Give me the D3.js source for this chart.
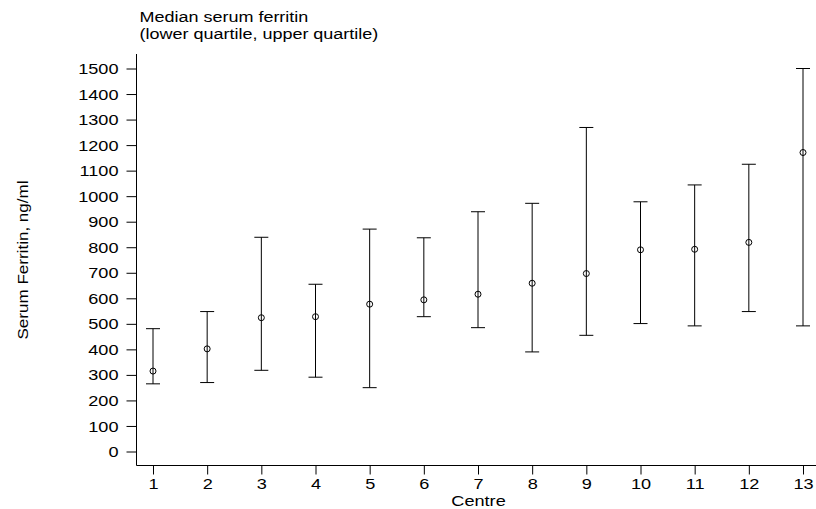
<!DOCTYPE html>
<html>
<head>
<meta charset="utf-8">
<script src="https://cdn.jsdelivr.net/npm/d3@7"></script>
<style>
  html, body { margin: 0; padding: 0; background: #fff; }
  svg { display: block; }
  text { font-family: "Liberation Sans", Arial, sans-serif; fill: #000; }
</style>
</head>
<body>
<svg id="chart" width="816" height="509"></svg>
<script>
const centres = [1, 2, 3, 4, 5, 6, 7, 8, 9, 10, 11, 12, 13];
const medians = [315, 402, 524, 528, 577, 594, 616, 659, 697, 790, 792, 819, 1171];
const lowerQ  = [265, 270, 318, 291, 250, 528, 485, 390, 455, 501, 492, 548, 492];
const upperQ  = [481, 548, 839, 655, 871, 837, 939, 972, 1269, 978, 1044, 1125, 1500];
const yTicks = [0, 100, 200, 300, 400, 500, 600, 700, 800, 900, 1000, 1100, 1200, 1300, 1400, 1500];
const titleLines = ["Median serum ferritin", "(lower quartile, upper quartile)"];
const xLabel = "Centre";
const yLabel = "Serum Ferritin, ng/ml";

const svg = d3.select("#chart");
const FS = 15.5, SX = 1.17;

const x = d3.scaleLinear().domain([1, 13]).range([153, 803]);
const y = d3.scaleLinear().domain([0, 1500]).range([451.5, 68.5]);

const axisX = 136.5, axisY = 465.5;

// Y axis
const gy = svg.append("g").attr("transform", `translate(${axisX},0)`)
  .call(d3.axisLeft(y).tickValues(yTicks).tickSize(10).tickSizeOuter(0).tickFormat(d3.format("d")));
gy.select(".domain").remove();
gy.selectAll(".tick line").attr("stroke", "#000");
gy.selectAll(".tick text")
  .attr("x", null).attr("dy", null)
  .attr("font-size", FS)
  .attr("text-anchor", "end")
  .attr("dominant-baseline", "central")
  .attr("transform", `translate(-18,0) scale(${SX},1)`)
  .style("font-family", "'Liberation Sans', Arial, sans-serif");

// X axis
const gx = svg.append("g").attr("transform", `translate(0,${axisY})`)
  .call(d3.axisBottom(x).tickValues(centres).tickSize(9).tickSizeOuter(0).tickFormat(d3.format("d")));
gx.select(".domain").remove();
gx.selectAll(".tick line").attr("stroke", "#000");
gx.selectAll(".tick text")
  .attr("y", null).attr("dy", null)
  .attr("font-size", FS)
  .attr("text-anchor", "middle")
  .attr("transform", `translate(0,23) scale(${SX},1)`)
  .style("font-family", "'Liberation Sans', Arial, sans-serif");

// Axis lines
svg.append("line").attr("x1", axisX).attr("x2", axisX).attr("y1", 54).attr("y2", axisY)
  .attr("stroke", "#000").attr("stroke-width", 1);
svg.append("line").attr("x1", axisX).attr("x2", 816).attr("y1", axisY).attr("y2", axisY)
  .attr("stroke", "#000").attr("stroke-width", 1);

// Error bars
const data = centres.map((c, i) => ({ c, m: medians[i], lo: lowerQ[i], hi: upperQ[i] }));
const capW = 7;
const bars = svg.append("g").attr("stroke", "#000").attr("stroke-width", 1).attr("fill", "none");
bars.selectAll("line.v").data(data).join("line").attr("class", "v")
  .attr("x1", d => x(d.c)).attr("x2", d => x(d.c))
  .attr("y1", d => y(d.lo)).attr("y2", d => y(d.hi));
bars.selectAll("line.top").data(data).join("line").attr("class", "top")
  .attr("x1", d => x(d.c) - capW).attr("x2", d => x(d.c) + capW)
  .attr("y1", d => y(d.hi)).attr("y2", d => y(d.hi));
bars.selectAll("line.bot").data(data).join("line").attr("class", "bot")
  .attr("x1", d => x(d.c) - capW).attr("x2", d => x(d.c) + capW)
  .attr("y1", d => y(d.lo)).attr("y2", d => y(d.lo));
bars.selectAll("circle").data(data).join("circle")
  .attr("cx", d => x(d.c)).attr("cy", d => y(d.m)).attr("r", 3);

// Title
svg.append("g").selectAll("text").data(titleLines).join("text")
  .attr("font-size", 15)
  .attr("transform", (d, i) => `translate(139.5,${22 + i * 16.8}) scale(1.2,1)`)
  .text(d => d);

// X label
svg.append("text").attr("font-size", FS).attr("text-anchor", "middle")
  .attr("transform", `translate(478.5,506) scale(${SX},1)`)
  .text(xLabel);

// Y label
svg.append("text").attr("font-size", FS).attr("text-anchor", "middle")
  .attr("transform", `translate(28,260) rotate(-90) scale(1.1,1)`)
  .text(yLabel);
</script>
</body>
</html>
